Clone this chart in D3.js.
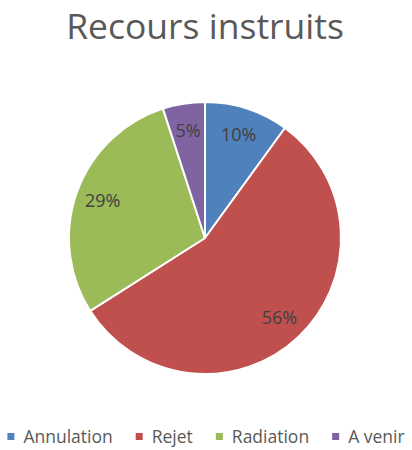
<!DOCTYPE html>
<html>
<head>
<meta charset="utf-8">
<script src="https://cdn.jsdelivr.net/npm/d3@7"></script>
<style>
  body { margin: 0; background: #fff; }
  svg { display: block; font-family: "Open Sans", "Noto Sans", sans-serif; }
</style>
</head>
<body>
<div id="chart"></div>
<script>
// data
var categories = ["Annulation", "Rejet", "Radiation", "A venir"];
var values = [10, 56, 29, 5];
var colors = ["#4F81BD", "#C0504D", "#9BBB59", "#8064A2"];
var chartTitle = "Recours instruits";

var width = 412, height = 450;
var cx = 205, cy = 238, radius = 136;

var svg = d3.select("#chart").append("svg")
  .attr("width", width)
  .attr("height", height);

// title
svg.append("text")
  .attr("x", 205)
  .attr("y", 39)
  .attr("text-anchor", "middle")
  .attr("font-size", 35.5)
  .attr("fill", "#595959")
  .text(chartTitle);

var total = d3.sum(values);
var pie = d3.pie().sort(null).value(function(d) { return d; });
var arcs = pie(values);

var arc = d3.arc().innerRadius(0).outerRadius(radius);
var labelArc = d3.arc().innerRadius(radius * 0.8).outerRadius(radius * 0.8);

var g = svg.append("g").attr("transform", "translate(" + cx + "," + cy + ")");

g.selectAll("path.slice")
  .data(arcs)
  .enter().append("path")
  .attr("class", "slice")
  .attr("d", arc)
  .attr("fill", function(d, i) { return colors[i]; })
  .attr("stroke", "#fff")
  .attr("stroke-width", 2)
  .attr("stroke-linejoin", "round");

g.selectAll("text.lbl")
  .data(arcs)
  .enter().append("text")
  .attr("class", "lbl")
  .attr("transform", function(d) { return "translate(" + labelArc.centroid(d) + ")"; })
  .attr("text-anchor", "middle")
  .attr("dy", "0.35em")
  .attr("font-size", 18)
  .attr("fill", "#404040")
  .text(function(d) { return Math.round(d.value / total * 100) + "%"; });

// legend
var legend = svg.append("g").attr("class", "legend");
var items = legend.selectAll("g.item")
  .data(categories)
  .enter().append("g")
  .attr("class", "item");

items.append("rect")
  .attr("width", 7)
  .attr("height", 7)
  .attr("y", -10)
  .attr("fill", function(d, i) { return colors[i]; });

items.append("text")
  .attr("x", 16)
  .attr("font-size", 17.5)
  .attr("fill", "#595959")
  .text(function(d) { return d; });

// lay the legend items out in a row, centred
var gap = 23, xs = [], cur = 0;
items.each(function() {
  xs.push(cur);
  cur += this.getBBox().width + gap;
});
var totalW = cur - gap;
var startX = (width - totalW) / 2;
items.attr("transform", function(d, i) { return "translate(" + (startX + xs[i]) + ",443)"; });
</script>
</body>
</html>
